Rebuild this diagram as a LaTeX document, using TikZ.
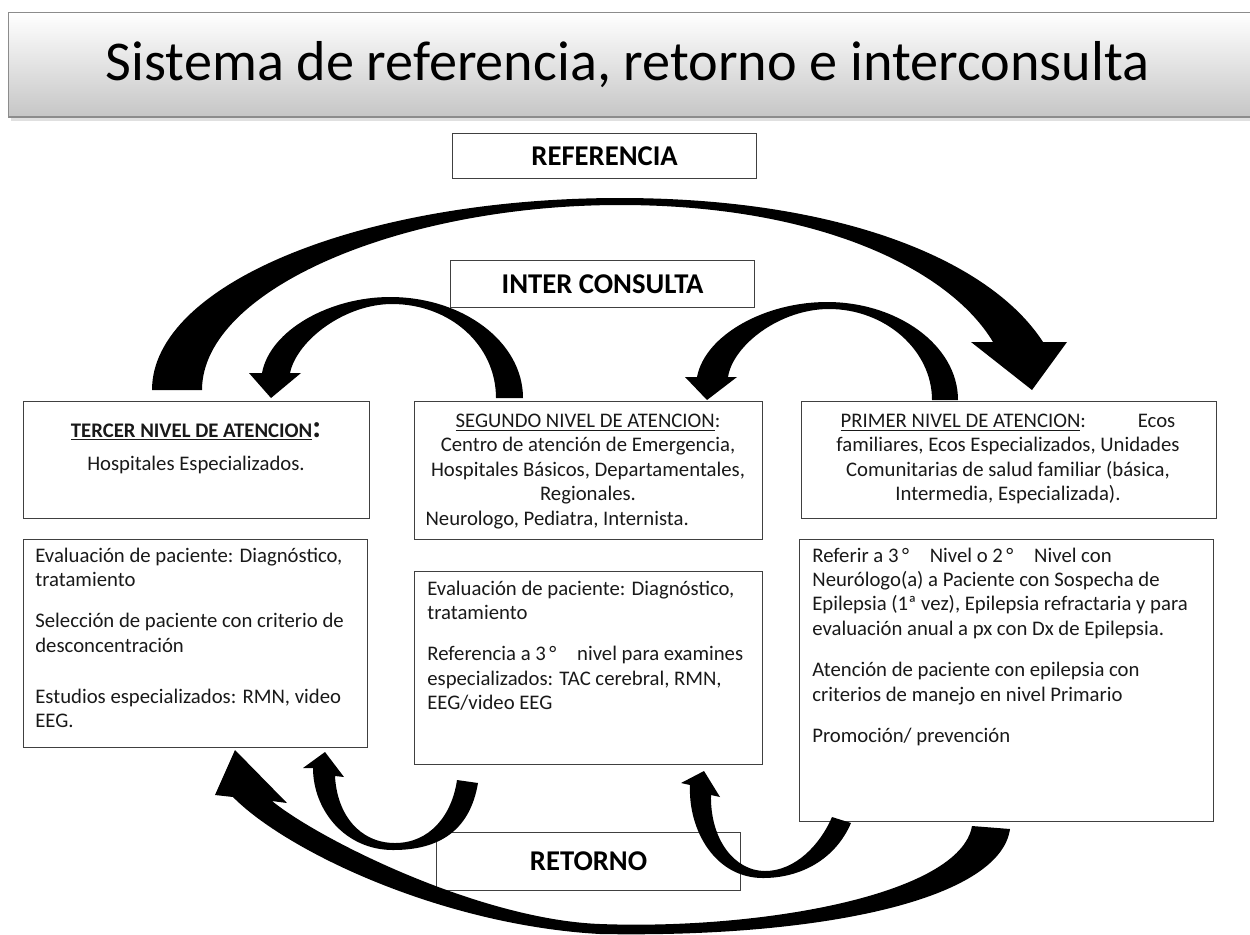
\documentclass[tikz,border=0pt]{standalone}
\usepackage{fontspec}
\setmainfont{Carlito}
\usetikzlibrary{positioning}

\tikzset{
  panel/.style={draw=black!75, line width=0.7pt, inner sep=0pt, anchor=north west},
  body/.style={font=\fontsize{11.8}{13.9}\selectfont, inner sep=0pt, text=black!90},
  tag/.style={draw=black!75, line width=0.7pt, inner sep=0pt, anchor=north west,
    font=\fontsize{16.3}{18}\selectfont\bfseries}
}

\begin{document}
\begin{tikzpicture}[x=0.02cm, y=-0.02cm]
    \useasboundingbox (0,0) rectangle (1250,934);

    % title banner
    \fill[black!12] (11,16) rectangle (1250,121);
    \fill[black!45] (8,12) rectangle (1250,118);
    \shade[top color=white, bottom color=black!22] (9,13) rectangle (1250,115);
    \node[anchor=base, font=\fontsize{32}{34}\selectfont] (title) at (627.5,80)
      {Sistema de referencia, retorno e interconsulta};

    % labels
    \node[tag, minimum width=6.08cm, minimum height=0.9cm] (REF) at (452,133) {REFERENCIA};
    \node[tag, minimum width=6.08cm, minimum height=0.94cm] (IC) at (450,260) {INTER CONSULTA};
    \node[tag, minimum width=6.08cm, minimum height=1.16cm] (RT) at (436,832) {RETORNO};

    % panels
    \node[panel, minimum width=6.92cm, minimum height=2.34cm] (T1) at (23,401) {};
    \node[panel, minimum width=6.88cm, minimum height=4.16cm] (T2) at (23,539) {};
    \node[panel, minimum width=6.96cm, minimum height=2.76cm] (S1) at (414,401) {};
    \node[panel, minimum width=6.96cm, minimum height=3.86cm] (S2) at (414,571) {};
    \node[panel, minimum width=8.30cm, minimum height=2.34cm] (P1) at (801,401) {};
    \node[panel, minimum width=8.28cm, minimum height=5.64cm] (P2) at (799,539) {};

    % tercer nivel
    \node[body, align=flush center, text width=6.9cm, anchor=base] (T1t) at (196,437)
      {\textbf{\underline{TERCER NIVEL DE ATENCION}}{\fontsize{18}{18}\selectfont\bfseries :}\\[5pt]
       Hospitales Especializados.};
    \node[body, align=flush left, text width=6.6cm, anchor=base west] (T2t) at (35,562)
      {Evaluación de paciente: Diagnóstico,\\tratamiento\\[9.7pt]
       Selección de paciente con criterio de\\desconcentración\\[15pt]
       Estudios especializados: RMN, video\\EEG.};

    % segundo nivel
    \node[body, align=flush center, text width=6.5cm, anchor=base] (S1t) at (588,427.5)
      {\underline{SEGUNDO NIVEL DE ATENCION}:\\Centro de atención de Emergencia,\\
       Hospitales Básicos, Departamentales,\\Regionales.\\
       Neurologo, Pediatra, Internista.\hfill\mbox{}};
    \node[body, align=flush left, text width=6.7cm, anchor=base west] (S2t) at (427,595)
      {Evaluación de paciente: Diagnóstico,\\tratamiento\\[9.7pt]
       Referencia a 3\,°\hspace{1em}nivel para examines\\
       especializados: TAC cerebral, RMN,\\EEG/video EEG};

    % primer nivel
    \node[body, align=flush center, text width=8.3cm, anchor=base] (P1t) at (1008,427.5)
      {\underline{PRIMER NIVEL DE ATENCION}:\hspace{2.5em}Ecos\\
       familiares, Ecos Especializados, Unidades\\
       Comunitarias de salud familiar (básica,\\Intermedia, Especializada).};
    \node[body, align=flush left, text width=7.9cm, anchor=base west] (P2t) at (812,562)
      {Referir a 3\,°\hspace{1em}Nivel o 2\,°\hspace{1em}Nivel con\\
       Neurólogo(a) a Paciente con Sospecha de\\
       Epilepsia (1ª vez), Epilepsia refractaria y para\\
       evaluación anual a px con Dx de Epilepsia.\\[9.7pt]
       Atención de paciente con epilepsia con\\criterios de manejo en nivel Primario\\[9.7pt]
       Promoción/ prevención};

    % referencia: tercer -> primer
    \fill (152,390) .. controls (152,284) and (362,198) .. (620,198)
      .. controls (840,198) and (990,260) .. (1043,342)
      -- (1067,342) -- (1032,390) -- (971,342) -- (993,342)
      .. controls (950,270) and (820,205) .. (620,205)
      .. controls (400,205) and (202,290) .. (202,390) -- cycle;

    % inter consulta
    \fill (523,398) .. controls (523,342) and (463,297) .. (390,297)
      .. controls (330,297) and (270,330) .. (262,373)
      -- (249,373) -- (271,398) -- (301,373) -- (290,373)
      .. controls (297,340) and (345,304) .. (392,304)
      .. controls (450,304) and (496,345) .. (496,398) -- cycle;
    \fill (958,400) .. controls (958,345) and (897,302) .. (827,302)
      .. controls (765,302) and (705,335) .. (697,377)
      -- (685,377) -- (707,400) -- (737,377) -- (728,377)
      .. controls (733,345) and (780,309) .. (829,309)
      .. controls (885,309) and (932,350) .. (932,400) -- cycle;

    % retorno
    \fill (972,826) .. controls (960,895) and (760,930) .. (600,924)
      .. controls (480,919.5) and (320,840) .. (272,801)
      -- (287,803) -- (235,750) -- (215,795) -- (233,797)
      .. controls (285,850) and (440,925) .. (600,934)
      .. controls (820,938) and (1000,900) .. (1010,829) -- cycle;
    \fill (478,783) .. controls (470,830) and (440,850) .. (393,850)
      .. controls (345,850) and (313,810) .. (313,768)
      -- (303,768) -- (325,752) -- (344,777) -- (335,776)
      .. controls (337,815) and (360,843) .. (395,843)
      .. controls (430,843) and (452,815) .. (457,780) -- cycle;
    \fill (851,823) .. controls (835,860) and (800,878) .. (763,878)
      .. controls (715,878) and (688,830) .. (690,785)
      -- (681,783) -- (704,771) -- (720,797) -- (711,795)
      .. controls (710,840) and (735,871) .. (765,871)
      .. controls (795,871) and (820,845) .. (832,817) -- cycle;
\end{tikzpicture}
\end{document}
